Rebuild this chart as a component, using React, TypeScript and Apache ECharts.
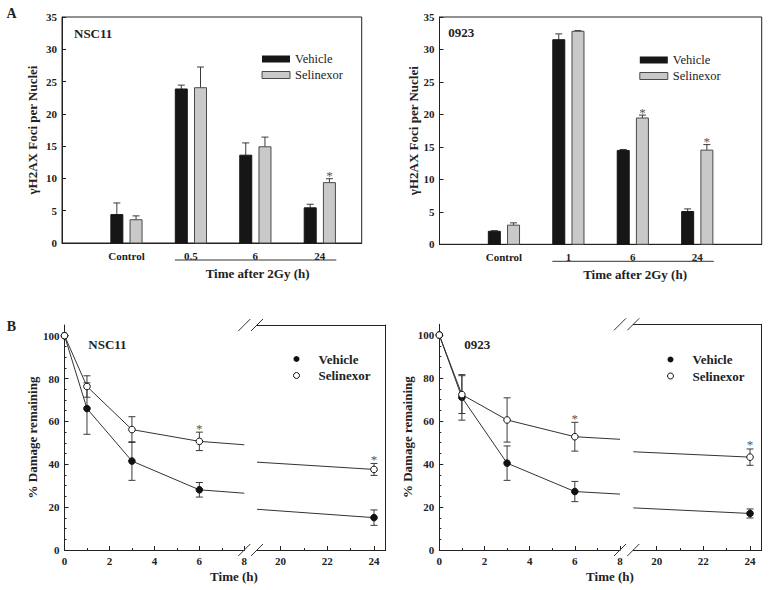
import React, { useEffect, useRef } from 'react';
import * as echarts from 'echarts';

const SERIF = "'Liberation Serif', 'Times New Roman', 'DejaVu Serif', serif";
const AX = '#222';

// ---------- Panel A : gammaH2AX foci per nucleus ----------
const categoriesNSC11 = ['Control', '0.5', '6', '24'];
const categories0923 = ['Control', '1', '6', '24'];
const nscVehicleFoci = [4.4, 23.85, 13.6, 5.45];
const nscVehicleFociErr = [1.8, 0.6, 1.9, 0.55];
const nscSelinexorFoci = [3.6, 24.05, 14.9, 9.35];
const nscSelinexorFociErr = [0.6, 3.2, 1.5, 0.6];
const nscSelinexorFociStar = [0, 0, 0, 1];
const p0923VehicleFoci = [2.0, 31.5, 14.45, 5.05];
const p0923VehicleFociErr = [0.1, 0.9, 0.15, 0.4];
const p0923SelinexorFoci = [2.95, 32.8, 19.45, 14.5];
const p0923SelinexorFociErr = [0.35, 0.1, 0.45, 0.85];
const p0923SelinexorFociStar = [0, 0, 1, 1];
const fociTicks = [0, 5, 10, 15, 20, 25, 30, 35];

// ---------- Panel B : % damage remaining ----------
const timesH = [0, 1, 3, 6, 24];
const nscVehicleDamage = [100, 66, 41.5, 28.1, 15.1];
const nscVehicleDamageErr = [0, 12, 9, 3.4, 3.6];
const nscSelinexorDamage = [100, 76.3, 56.2, 50.7, 37.6];
const nscSelinexorDamageErr = [0, 5, 6, 4.3, 2.8];
const nscSelinexorDamageStar = [0, 0, 0, 1, 1];
const p0923VehicleDamage = [100, 71, 40.4, 27.2, 17.0];
const p0923VehicleDamageErr = [0, 10.6, 8, 4.7, 2.1];
const p0923SelinexorDamage = [100, 72.3, 60.5, 52.7, 43.2];
const p0923SelinexorDamageErr = [0, 8.8, 10.3, 6.7, 3.8];
const p0923SelinexorDamageStar = [0, 0, 0, 1, 1];
// fitted curve value at the two sides of the axis break (8 h | 19 h)
const breakTimes = [8, 19];
const nscVehicleFitBreak = [26.5, 19.0];
const nscSelinexorFitBreak = [49.1, 41.0];
const p0923VehicleFitBreak = [26.0, 19.6];
const p0923SelinexorFitBreak = [51.5, 45.7];
const damageTicks = [0, 20, 40, 60, 80, 100];
const damageMinorTicks = [5, 10, 15, 25, 30, 35, 45, 50, 55, 65, 70, 75, 85, 90, 95];
const earlyTimeTicks = [0, 2, 4, 6, 8];
const lateTimeTicks = [20, 22, 24];
const lateTimeMinorTicks = [21, 23];

const BAR_W = 12;
const BAR_OFF = 9.6;

const lineStyle = { color: AX, width: 1 };
const tickLabel = (size = 11) => ({ fontFamily: SERIF, fontWeight: 'bold' as const, fontSize: size, color: '#222' });

function barRenderer(offset: number, fill: string, stroke: string) {
  return (params: any, api: any) => {
    const x = api.value(0), v = api.value(1), e = api.value(2), star = api.value(3);
    const base = api.coord([x, 0]);
    const top = api.coord([x, v]);
    const et = api.coord([x, v + e]);
    const cx = base[0] + offset;
    const children: any[] = [
      { type: 'line', shape: { x1: cx, y1: top[1], x2: cx, y2: et[1] }, style: { stroke: '#3a3a3a', lineWidth: 1 } },
      { type: 'line', shape: { x1: cx - 3.5, y1: et[1], x2: cx + 3.5, y2: et[1] }, style: { stroke: '#3a3a3a', lineWidth: 1 } },
      { type: 'rect', shape: { x: cx - BAR_W / 2, y: top[1], width: BAR_W, height: base[1] - top[1] }, style: { fill, stroke, lineWidth: 1 } },
    ];
    if (star) {
      children.push({ type: 'text', x: cx, y: et[1] - 3, style: { text: '*', fill: '#555', font: `13px ${SERIF}`, align: 'center', verticalAlign: 'middle' } });
    }
    return { type: 'group', children };
  };
}

function bracketRenderer(title: string) {
  return (params: any, api: any) => {
    const p1 = api.coord([api.value(0), 0]);
    const p2 = api.coord([api.value(1), 0]);
    const x1 = p1[0] - 16, x2 = p2[0] + 16.5;
    const y = p1[1] + 17;
    return {
      type: 'group',
      children: [
        { type: 'line', shape: { x1, y1: y, x2, y2: y }, style: { stroke: '#333', lineWidth: 1 } },
        { type: 'text', x: (x1 + x2) / 2 + 2, y: p1[1] + 30.5, style: { text: title, fill: '#222', font: `bold 13px ${SERIF}`, align: 'center', verticalAlign: 'middle' } },
      ],
    };
  };
}

function markerRenderer(fill: string) {
  return (params: any, api: any) => {
    const t = api.value(0), m = api.value(1), e = api.value(2), star = api.value(3);
    const p = api.coord([t, m]);
    const hi = api.coord([t, m + e]);
    const lo = api.coord([t, m - e]);
    const children: any[] = [];
    if (e > 0) {
      const s = { stroke: '#3a3a3a', lineWidth: 1 };
      children.push({ type: 'line', shape: { x1: p[0], y1: lo[1], x2: p[0], y2: hi[1] }, style: s });
      children.push({ type: 'line', shape: { x1: p[0] - 3.5, y1: lo[1], x2: p[0] + 3.5, y2: lo[1] }, style: s });
      children.push({ type: 'line', shape: { x1: p[0] - 3.5, y1: hi[1], x2: p[0] + 3.5, y2: hi[1] }, style: s });
    }
    children.push({ type: 'circle', shape: { cx: p[0], cy: p[1], r: 3.3 }, style: { fill, stroke: '#111', lineWidth: 1 } });
    if (star) {
      children.push({ type: 'text', x: p[0], y: hi[1] - 4, style: { text: '*', fill: '#555', font: `13px ${SERIF}`, align: 'center', verticalAlign: 'middle' } });
    }
    return { type: 'group', children };
  };
}

function breakRenderer(side: 'left' | 'right') {
  return (params: any) => {
    const cs = params.coordSys;
    const x = side === 'right' ? cs.x + cs.width : cs.x;
    const mk = (y: number) => ({ type: 'line', shape: { x1: x - 6, y1: y + 6, x2: x + 6, y2: y - 6 }, style: { stroke: '#333', lineWidth: 1 } });
    return { type: 'group', children: [mk(cs.y), mk(cs.y + cs.height)] };
  };
}

function panelASeries(xi: number, veh: number[], vehErr: number[], sel: number[], selErr: number[], selStar: number[], title: string) {
  return [
    {
      type: 'custom', name: 'Vehicle', xAxisIndex: xi, yAxisIndex: xi, silent: true, z: 3,
      itemStyle: { color: '#161616' },
      renderItem: barRenderer(-BAR_OFF, '#161616', '#161616'),
      data: veh.map((v, i) => [i + 1, v, vehErr[i], 0]),
    },
    {
      type: 'custom', name: 'Selinexor', xAxisIndex: xi, yAxisIndex: xi, silent: true, z: 3,
      itemStyle: { color: '#c9c9c9' },
      renderItem: barRenderer(BAR_OFF, '#c9c9c9', '#4a4a4a'),
      data: sel.map((v, i) => [i + 1, v, selErr[i], selStar[i]]),
    },
    {
      type: 'custom', xAxisIndex: xi, yAxisIndex: xi, silent: true,
      renderItem: bracketRenderer(title),
      data: [[2, 4]],
    },
  ];
}

function panelBSeries(xL: number, yL: number, xR: number, yR: number,
  veh: number[], vehErr: number[], sel: number[], selErr: number[], selStar: number[],
  vehFit: number[], selFit: number[]) {
  const early = [0, 1, 2, 3];
  const line = (vals: number[], fit: number[], xi: number, yi: number, late: boolean) => ({
    type: 'line', xAxisIndex: xi, yAxisIndex: yi, silent: true, symbol: 'none', z: 2,
    lineStyle: { color: '#333', width: 1 },
    data: late
      ? [[breakTimes[1], fit[1]], [timesH[4], vals[4]]]
      : early.map((i) => [timesH[i], vals[i]]).concat([[breakTimes[0], fit[0]]]),
  });
  const marks = (name: string, fill: string, vals: number[], errs: number[], stars: number[], xi: number, yi: number, idx: number[], z: number) => ({
    type: 'custom', name, xAxisIndex: xi, yAxisIndex: yi, silent: true, z,
    itemStyle: { color: fill === '#fff' ? '#888' : '#111' },
    renderItem: markerRenderer(fill),
    data: idx.map((i) => [timesH[i], vals[i], errs[i], stars[i]]),
  });
  const noStar = [0, 0, 0, 0, 0];
  return [
    line(veh, vehFit, xL, yL, false),
    line(sel, selFit, xL, yL, false),
    line(veh, vehFit, xR, yR, true),
    line(sel, selFit, xR, yR, true),
    marks('Vehicle', '#111', veh, vehErr, noStar, xL, yL, early, 3),
    marks('Selinexor', '#fff', sel, selErr, selStar, xL, yL, early, 4),
    marks('Vehicle', '#111', veh, vehErr, noStar, xR, yR, [4], 3),
    marks('Selinexor', '#fff', sel, selErr, selStar, xR, yR, [4], 4),
    { type: 'custom', xAxisIndex: xL, yAxisIndex: yL, silent: true, renderItem: breakRenderer('right'), data: [[0, 0]] },
    { type: 'custom', xAxisIndex: xR, yAxisIndex: yR, silent: true, renderItem: breakRenderer('left'), data: [[20, 0]] },
  ];
}

const FOCI_TITLE = 'γH2AX Foci per Nuclei';
const TIME_A_TITLE = 'Time after 2Gy (h)';
const DAMAGE_TITLE = '% Damage remaining';

function aXAxis(grid: number, max: number, cats: string[]) {
  return {
    type: 'value', gridIndex: grid, min: 0, max, position: 'bottom',
    axisLine: { show: true, lineStyle }, axisTick: { show: false }, splitLine: { show: false },
    axisLabel: { customValues: [1, 2, 3, 4], formatter: (v: number) => cats[Math.round(v) - 1] ?? '', margin: 7, ...tickLabel(11) },
  };
}
function aYAxis(grid: number, nameGap: number) {
  return {
    type: 'value', gridIndex: grid, min: 0, max: 35, interval: 5, position: 'left',
    axisLine: { show: true, lineStyle }, axisTick: { show: true, inside: true, length: 4, lineStyle, customValues: fociTicks },
    splitLine: { show: false }, axisLabel: { margin: 5, customValues: fociTicks, ...tickLabel(11) },
    name: FOCI_TITLE, nameLocation: 'middle', nameGap,
    nameTextStyle: { fontFamily: SERIF, fontWeight: 'bold', fontSize: 13, color: '#222' },
  };
}
function bXAxes(gl: number, gr: number) {
  const lineOnly = (g: number, min: number, max: number) => ({
    type: 'value', gridIndex: g, min, max, position: 'top',
    axisLine: { show: true, lineStyle }, axisTick: { show: false }, axisLabel: { show: false }, splitLine: { show: false },
  });
  return [
    {
      type: 'value', gridIndex: gl, min: 0, max: 8, interval: 2, position: 'bottom',
      axisLine: { show: true, lineStyle }, axisTick: { show: true, inside: true, length: 4, lineStyle },
      minorTick: { show: true, splitNumber: 2, length: 2, lineStyle }, splitLine: { show: false },
      axisLabel: { margin: 5, customValues: earlyTimeTicks, ...tickLabel(11) },
    },
    lineOnly(gl, 0, 8),
    {
      type: 'value', gridIndex: gr, min: 19, max: 24.5, position: 'bottom',
      axisLine: { show: true, lineStyle }, axisTick: { show: true, inside: true, length: 4, lineStyle, customValues: lateTimeTicks },
      splitLine: { show: false }, axisLabel: { margin: 5, customValues: lateTimeTicks, ...tickLabel(11) },
    },
    lineOnly(gr, 19, 24.5),
    {
      type: 'value', gridIndex: gr, min: 19, max: 24.5, position: 'bottom',
      axisLine: { show: false }, axisLabel: { show: false }, splitLine: { show: false },
      axisTick: { show: true, inside: true, length: 2, lineStyle, customValues: lateTimeMinorTicks },
    },
  ];
}
function bYAxes(gl: number, gr: number, nameGap: number) {
  return [
    {
      type: 'value', gridIndex: gl, min: 0, max: 105, position: 'left',
      axisLine: { show: true, lineStyle }, axisTick: { show: true, inside: true, length: 4, lineStyle, customValues: damageTicks },
      splitLine: { show: false }, axisLabel: { margin: 5, customValues: damageTicks, ...tickLabel(11) },
      name: DAMAGE_TITLE, nameLocation: 'middle', nameGap,
      nameTextStyle: { fontFamily: SERIF, fontWeight: 'bold', fontSize: 13, color: '#222' },
    },
    {
      type: 'value', gridIndex: gl, min: 0, max: 105, position: 'left',
      axisLine: { show: false }, axisLabel: { show: false }, splitLine: { show: false },
      axisTick: { show: true, inside: true, length: 2, lineStyle, customValues: damageMinorTicks },
    },
    {
      type: 'value', gridIndex: gr, min: 0, max: 105, position: 'right',
      axisLine: { show: true, lineStyle }, axisTick: { show: false }, axisLabel: { show: false }, splitLine: { show: false },
    },
  ];
}

function legendA(left: number, top: number) {
  return {
    left, top, padding: 0, orient: 'vertical', itemWidth: 28, itemHeight: 7, itemGap: 3, selectedMode: false,
    textStyle: { fontFamily: SERIF, fontSize: 12.5, color: '#222' },
    data: [
      { name: 'Vehicle', icon: 'rect', itemStyle: { color: '#161616', borderWidth: 0 } },
      { name: 'Selinexor', icon: 'rect', itemStyle: { color: '#c9c9c9', borderColor: '#4a4a4a', borderWidth: 1 } },
    ],
  };
}
function legendB(left: number, top: number) {
  return {
    left, top, padding: 0, orient: 'vertical', itemWidth: 6, itemHeight: 6, itemGap: 3.5, selectedMode: false,
    textStyle: { fontFamily: SERIF, fontSize: 13, fontWeight: 'bold', color: '#222', padding: [0, 0, 0, 14] },
    data: [
      { name: 'Vehicle', icon: 'circle', itemStyle: { color: '#111', borderWidth: 0 } },
      { name: 'Selinexor', icon: 'circle', itemStyle: { color: '#fff', borderColor: '#111', borderWidth: 1 } },
    ],
  };
}

const txt = (text: string, x: number, y: number, size: number, align = 'left') => ({
  type: 'text', x, y, silent: true,
  style: { text, fill: '#222', font: `bold ${size}px ${SERIF}`, align, verticalAlign: 'middle' },
});

function buildOption(): any {
  return {
    animation: false,
    backgroundColor: '#fff',
    grid: [
      { left: 62, top: 17, width: 299.7, height: 226, show: true, borderColor: AX, borderWidth: 1, backgroundColor: 'transparent' },
      { left: 439.5, top: 17, width: 322.2, height: 227.3, show: true, borderColor: AX, borderWidth: 1, backgroundColor: 'transparent' },
      { left: 64.5, top: 325, width: 179.8, height: 225 },
      { left: 257, top: 325, width: 128.7, height: 225 },
      { left: 439.3, top: 324.3, width: 180.7, height: 225.7 },
      { left: 633.3, top: 324.3, width: 128.4, height: 225.7 },
    ],
    xAxis: [
      aXAxis(0, 4.65, categoriesNSC11),
      aXAxis(1, 5, categories0923),
      ...bXAxes(2, 3),
      ...bXAxes(4, 5),
    ],
    yAxis: [
      aYAxis(0, 23),
      aYAxis(1, 19),
      ...bYAxes(2, 3, 21),
      ...bYAxes(4, 5, 22),
    ],
    legend: [legendA(261.5, 52.5), legendA(639.3, 53.5), legendB(293, 352.5), legendB(667, 353)],
    graphic: [
      txt('A', 11.5, 13, 14, 'center'),
      txt('B', 11.5, 326.5, 14, 'center'),
      txt('NSC11', 74, 33, 13),
      txt('0923', 448.3, 32.3, 13),
      txt('NSC11', 88.3, 344.3, 13),
      txt('0923', 464.3, 344.3, 13),
      txt('Time (h)', 234, 576, 13, 'center'),
      txt('Time (h)', 610, 576, 13, 'center'),
    ],
    series: [
      ...panelASeries(0, nscVehicleFoci, nscVehicleFociErr, nscSelinexorFoci, nscSelinexorFociErr, nscSelinexorFociStar, TIME_A_TITLE),
      ...panelASeries(1, p0923VehicleFoci, p0923VehicleFociErr, p0923SelinexorFoci, p0923SelinexorFociErr, p0923SelinexorFociStar, TIME_A_TITLE),
      ...panelBSeries(2, 2, 4, 4, nscVehicleDamage, nscVehicleDamageErr, nscSelinexorDamage, nscSelinexorDamageErr, nscSelinexorDamageStar, nscVehicleFitBreak, nscSelinexorFitBreak),
      ...panelBSeries(7, 5, 9, 7, p0923VehicleDamage, p0923VehicleDamageErr, p0923SelinexorDamage, p0923SelinexorDamageErr, p0923SelinexorDamageStar, p0923VehicleFitBreak, p0923SelinexorFitBreak),
    ],
  };
}

export default function App() {
  const ref = useRef<HTMLDivElement>(null);
  useEffect(() => {
    if (!ref.current) return;
    const chart = echarts.init(ref.current, null, { renderer: 'svg' });
    chart.setOption(buildOption());
    return () => chart.dispose();
  }, []);
  return <div ref={ref} style={{ position: 'absolute', left: 0, top: 0, width: 769, height: 590, background: '#fff' }} />;
}
